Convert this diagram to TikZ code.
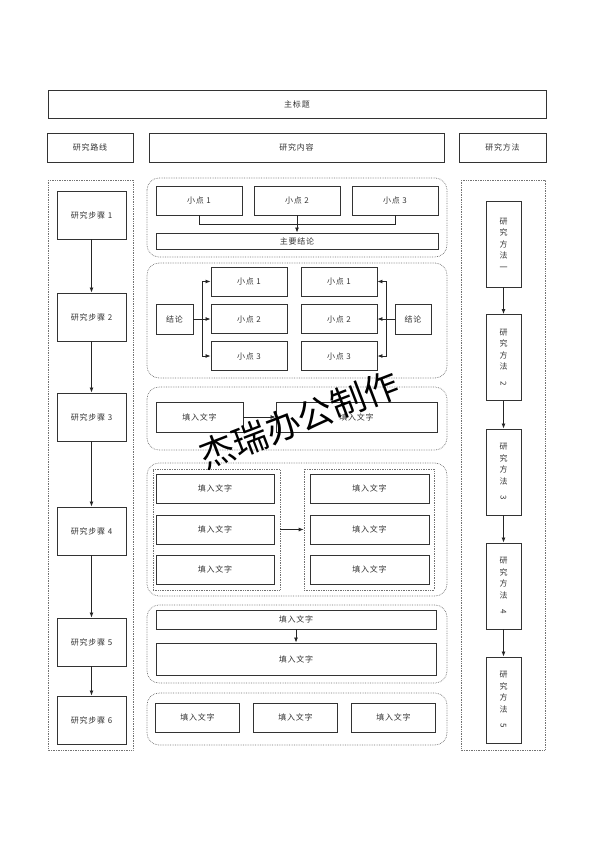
\documentclass[tikz,border=0pt]{standalone}
\usepackage{fontspec}
\usepackage{graphicx}
\usetikzlibrary{arrows.meta}
\newfontfamily\cjk[LetterSpace=10]{Noto Sans CJK SC}
\newfontfamily\cjkmark{Noto Sans CJK SC}

\begin{document}
\begin{tikzpicture}[x=1pt, y=-1pt,
    box/.style={draw=black!80, line width=0.9pt, text=black!80, inner sep=0pt,
      font=\cjk\fontsize{8}{10}\selectfont},
    vbox/.style={box, align=center, font=\cjk\fontsize{8}{11.5}\selectfont},
    panel/.style={draw=black!55, densely dotted, line width=0.7pt},
    rpanel/.style={panel, rounded corners=12pt},
    link/.style={draw=black!85, line width=0.8pt},
    arr/.style={link, -{Latex[length=5pt,width=4pt]}}]
    \useasboundingbox (0,0) rectangle (594,841);

    % Title and headers
    \node[box, minimum width=498, minimum height=28] (title) at (297,104) {主标题};
    \node[box, minimum width=86, minimum height=29] (hroute) at (90,147.5) {研究路线};
    \node[box, minimum width=295, minimum height=29] (hcont) at (296.5,147.5) {研究内容};
    \node[box, minimum width=87, minimum height=29] (hmeth) at (502.5,147.5) {研究方法};

    % Panels
    \draw[panel] (48,180) rectangle (133,750);
    \draw[panel] (461,180) rectangle (545,750);
    \draw[rpanel] (147,178) rectangle (447,257);
    \draw[rpanel] (147,263) rectangle (447,378);
    \draw[rpanel] (147,387) rectangle (447,450);
    \draw[rpanel] (147,463) rectangle (447,596);
    \draw[rpanel] (147,605) rectangle (447,683);
    \draw[rpanel] (147,693) rectangle (447,745);

    % Research route
    \node[box, minimum width=69, minimum height=48] (s1) at (91.5,215) {研究步骤 1};
    \node[box, minimum width=69, minimum height=48] (s2) at (91.5,317) {研究步骤 2};
    \node[box, minimum width=69, minimum height=48] (s3) at (91.5,417) {研究步骤 3};
    \node[box, minimum width=69, minimum height=48] (s4) at (91.5,531) {研究步骤 4};
    \node[box, minimum width=69, minimum height=48] (s5) at (91.5,642) {研究步骤 5};
    \node[box, minimum width=69, minimum height=48] (s6) at (91.5,720) {研究步骤 6};
    \draw[arr] (s1) -- (s2);
    \draw[arr] (s2) -- (s3);
    \draw[arr] (s3) -- (s4);
    \draw[arr] (s4) -- (s5);
    \draw[arr] (s5) -- (s6);

    % Research methods
    \node[vbox, minimum width=35, minimum height=86] (m1) at (503.5,244) {研\\究\\方\\法\\一};
    \node[vbox, minimum width=35, minimum height=86] (m2) at (503.5,357.5) {研\\究\\方\\法\\\rotatebox{-90}{2}};
    \node[vbox, minimum width=35, minimum height=86] (m3) at (503.5,472) {研\\究\\方\\法\\\rotatebox{-90}{3}};
    \node[vbox, minimum width=35, minimum height=86] (m4) at (503.5,586) {研\\究\\方\\法\\\rotatebox{-90}{4}};
    \node[vbox, minimum width=35, minimum height=86] (m5) at (503.5,700) {研\\究\\方\\法\\\rotatebox{-90}{5}};
    \draw[arr] (m1) -- (m2);
    \draw[arr] (m2) -- (m3);
    \draw[arr] (m3) -- (m4);
    \draw[arr] (m4) -- (m5);

    % Content 1
    \node[box, minimum width=86, minimum height=29] (a1) at (199,200.5) {小点 1};
    \node[box, minimum width=86, minimum height=29] (a2) at (297,200.5) {小点 2};
    \node[box, minimum width=86, minimum height=29] (a3) at (395,200.5) {小点 3};
    \node[box, minimum width=282, minimum height=16] (main) at (297,241) {主要结论};
    \draw[link] (a1.south) -- ++(0,9) -| (a3.south);
    \draw[arr] (a2) -- (main);

    % Content 2
    \node[box, minimum width=37, minimum height=30] (c1) at (174.5,319) {结论};
    \node[box, minimum width=76, minimum height=29] (b1) at (249,281.5) {小点 1};
    \node[box, minimum width=76, minimum height=29] (b2) at (249,319) {小点 2};
    \node[box, minimum width=76, minimum height=29] (b3) at (249,356) {小点 3};
    \node[box, minimum width=76, minimum height=29] (d1) at (339,281.5) {小点 1};
    \node[box, minimum width=76, minimum height=29] (d2) at (339,319) {小点 2};
    \node[box, minimum width=76, minimum height=29] (d3) at (339,356) {小点 3};
    \node[box, minimum width=36, minimum height=30] (c2) at (413,319) {结论};
    \coordinate (jl) at (202,319);
    \coordinate (jr) at (386,319);
    \draw[link] (c1) -- (jl);
    \draw[arr] (jl) |- (b1);
    \draw[arr] (jl) -- (b2);
    \draw[arr] (jl) |- (b3);
    \draw[link] (c2) -- (jr);
    \draw[arr] (jr) |- (d1);
    \draw[arr] (jr) -- (d2);
    \draw[arr] (jr) |- (d3);

    % Content 3
    \node[box, minimum width=87, minimum height=30] (e1) at (199.5,417) {填入文字};
    \node[box, minimum width=161, minimum height=30] (e2) at (356.5,417) {填入文字};
    \draw[arr] (e1) -- (e2);

    % Content 4
    \node[panel, minimum width=127, minimum height=121] (g1) at (216.5,529.5) {};
    \node[panel, minimum width=130, minimum height=121] (g2) at (369,529.5) {};
    \node[box, minimum width=118, minimum height=29] (f1) at (215,488.5) {填入文字};
    \node[box, minimum width=118, minimum height=29] (f2) at (215,529.5) {填入文字};
    \node[box, minimum width=118, minimum height=29] (f3) at (215,569.5) {填入文字};
    \node[box, minimum width=119, minimum height=29] (h1) at (369.5,488.5) {填入文字};
    \node[box, minimum width=119, minimum height=29] (h2) at (369.5,529.5) {填入文字};
    \node[box, minimum width=119, minimum height=29] (h3) at (369.5,569.5) {填入文字};
    \draw[arr] (g1) -- (g2);

    % Content 5
    \node[box, minimum width=280, minimum height=19] (k1) at (296,619.5) {填入文字};
    \node[box, minimum width=280, minimum height=32] (k2) at (296,659) {填入文字};
    \draw[arr] (k1) -- (k2);

    % Content 6
    \node[box, minimum width=84, minimum height=29] (n1) at (197.5,717.5) {填入文字};
    \node[box, minimum width=84, minimum height=29] (n2) at (295.5,717.5) {填入文字};
    \node[box, minimum width=84, minimum height=29] (n3) at (393.5,717.5) {填入文字};

    % Watermark
    \node[rotate=21, font=\cjkmark\fontsize{35}{35}\selectfont] (mark) at (299,420) {杰瑞办公制作};
\end{tikzpicture}
\end{document}
